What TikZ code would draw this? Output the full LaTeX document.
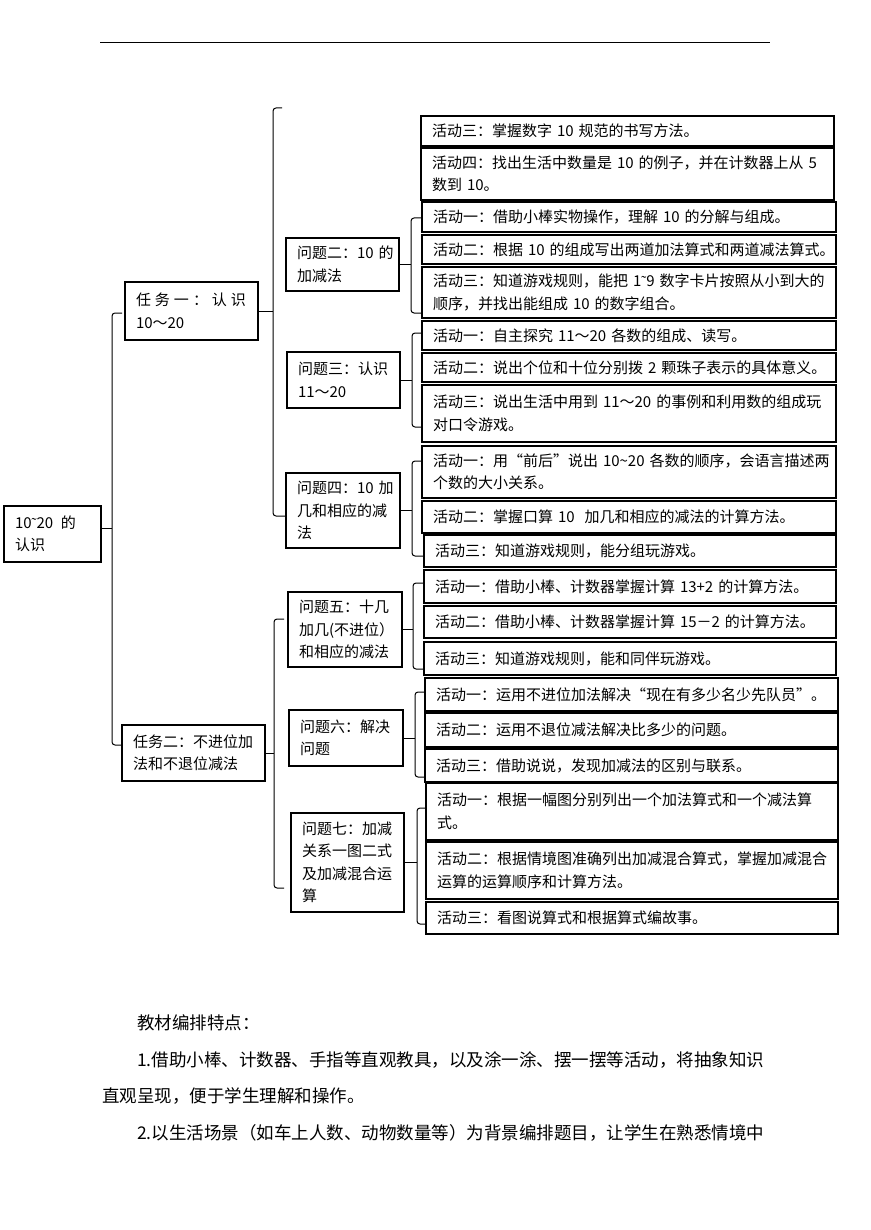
\documentclass[tikz,border=0pt]{standalone}
\usepackage{fontspec}
\setmainfont{Noto Sans CJK SC}
\newfontfamily\tildefont{Liberation Serif}
\newcommand\smtilde{{\tildefont ˜}}
\begin{document}
\begin{tikzpicture}[x=1pt,y=-1pt,
  box/.style={draw, line width=1.1pt, inner xsep=11pt, inner ysep=0pt, outer sep=0pt,
    anchor=north west, align=left, font=\fontsize{15}{22.5}\selectfont},
  conn/.style={line width=1pt, rounded corners=3pt},
  note/.style={anchor=base west, inner sep=0pt, font=\fontsize{17.5}{36}\selectfont}]
\useasboundingbox (0,0) rectangle (870,1230);
\newcommand\actbox[6]{%
  \pgfmathsetlengthmacro\bw{(#4-#2)*1pt}%
  \pgfmathsetlengthmacro\bh{(#5-#3)*1pt}%
  \pgfmathsetlengthmacro\tw{(#4-#2-22)*1pt}%
  \node[box, minimum width=\bw, minimum height=\bh, text width=\tw] (#1) at (#2,#3) {#6};}
% page rule
\draw[line width=0.9pt] (100,42) -- (770,42);
% main boxes
\actbox{root}{4}{506}{101}{562}{10\smtilde 20\enspace 的\\认识}
\actbox{task1}{125}{282}{258}{340}{\makebox[110pt][s]{任\hfill 务\hfill 一\hfill ：\hfill 认\hfill 识}\\10～20}
\actbox{task2}{122}{725}{265}{781}{任务二：不进位加\\法和不退位减法}
\actbox{p2}{286}{238}{399}{291}{问题二：10~的\\加减法}
\actbox{p3}{287}{352}{400}{408}{问题三：认识\\11～20}
\actbox{p4}{286}{473}{400}{548}{问题四：10~加\\几和相应的减\\法}
\actbox{p5}{288}{592}{402}{667}{问题五：十几\\加几(不进位）\\和相应的减法}
\actbox{p6}{289}{710}{403}{766}{问题六：解决\\问题}
\actbox{p7}{291}{813}{404}{912}{问题七：加减\\关系一图二式\\及加减混合运\\算}
% activities
\actbox{a13}{421}{116}{834}{146}{活动三：掌握数字~10~规范的书写方法。}
\actbox{a14}{421}{148}{834}{200}{活动四：找出生活中数量是~10~的例子，并在计数器上从~5\\数到~10。}
\actbox{a21}{422}{202}{836}{232}{活动一：借助小棒实物操作，理解~10~的分解与组成。}
\actbox{a22}{422}{235}{836}{264}{活动二：根据~10~的组成写出两道加法算式和两道减法算式。}
\actbox{a23}{422}{267}{836}{318}{活动三：知道游戏规则，能把~1\smtilde 9~数字卡片按照从小到大的\\顺序，并找出能组成~10~的数字组合。}
\actbox{a31}{422}{321}{836}{350}{活动一：自主探究~11～20~各数的组成、读写。}
\actbox{a32}{422}{353}{836}{382}{活动二：说出个位和十位分别拨~2~颗珠子表示的具体意义。}
\actbox{a33}{422}{385}{836}{442}{活动三：说出生活中用到~11～20~的事例和利用数的组成玩\\对口令游戏。}
\actbox{a41}{422}{446}{836}{498}{活动一：用“前后”说出~10\textasciitilde 20~各数的顺序，会语言描述两\\个数的大小关系。}
\actbox{a42}{422}{501}{836}{533}{活动二：掌握口算~10~~加几和相应的减法的计算方法。}
\actbox{a43}{424}{535}{836}{567}{活动三：知道游戏规则，能分组玩游戏。}
\actbox{a51}{424}{570}{836}{603}{活动一：借助小棒、计数器掌握计算~13+2~的计算方法。}
\actbox{a52}{424}{606}{836}{638}{活动二：借助小棒、计数器掌握计算~15－2~的计算方法。}
\actbox{a53}{424}{642}{836}{675}{活动三：知道游戏规则，能和同伴玩游戏。}
\actbox{a61}{425}{678}{838}{711}{活动一：运用不进位加法解决“现在有多少名少先队员”。}
\actbox{a62}{425}{713}{838}{747}{活动二：运用不退位减法解决比多少的问题。}
\actbox{a63}{425}{749}{838}{782}{活动三：借助说说，发现加减法的区别与联系。}
\actbox{a71}{426}{783}{838}{840}{活动一：根据一幅图分别列出一个加法算式和一个减法算\\式。}
\actbox{a72}{426}{842}{838}{899}{活动二：根据情境图准确列出加减混合算式，掌握加减混合\\运算的运算顺序和计算方法。}
\actbox{a73}{426}{902}{838}{934}{活动三：看图说算式和根据算式编故事。}
% hook ends that touch no box
\coordinate (t1top) at (282,108);
\coordinate (h5) at (284,619);
\coordinate (h7) at (284,888);
\coordinate (h1) at (122,313);
% root bracket
\draw[conn] (root.east |- 0,528) -- (112,528);
\draw[conn] (h1) -- (112,313) -- (112,745) -- (task2.west |- 0,745);
% task1 bracket
\draw[conn] (task1.east) -- (task1.east -| 273,0);
\draw[conn] (t1top) -- (273,108) -- (273,516) -- (p4.west |- 0,516);
% task2 bracket
\draw[conn] (task2.east) -- (task2.east -| 274,0);
\draw[conn] (h5) -- (274,619) -- (274,888) -- (h7);
% problem brackets
\draw[conn] (p2.east) -- (p2.east -| 411,0);
\draw[conn] (a21.west |- 0,218) -- (411,218) -- (411,313) -- (a23.west |- 0,313);
\draw[conn] (p3.east) -- (p3.east -| 412,0);
\draw[conn] (a31.west |- 0,333) -- (412,333) -- (412,427) -- (a33.west |- 0,427);
\draw[conn] (p4.east) -- (p4.east -| 412,0);
\draw[conn] (a41.west |- 0,461) -- (412,461) -- (412,556) -- (a43.west |- 0,556);
\draw[conn] (p5.east) -- (p5.east -| 413,0);
\draw[conn] (a51.west |- 0,583) -- (413,583) -- (413,669) -- (a53.west |- 0,669);
\draw[conn] (p6.east) -- (p6.east -| 415,0);
\draw[conn] (a61.west |- 0,692) -- (415,692) -- (415,777) -- (a63.west |- 0,777);
\draw[conn] (p7.east) -- (p7.east -| 417,0);
\draw[conn] (a71.west |- 0,808) -- (417,808) -- (417,924) -- (a73.west |- 0,924);
% notes
\node[note] (n0) at (137,1029) {教材编排特点：};
\node[note] (n1) at (137,1066) {1.借助小棒、计数器、手指等直观教具，以及涂一涂、摆一摆等活动，将抽象知识};
\node[note] (n2) at (102,1102) {直观呈现，便于学生理解和操作。};
\node[note] (n3) at (137,1139) {2.以生活场景（如车上人数、动物数量等）为背景编排题目，让学生在熟悉情境中};
\end{tikzpicture}
\end{document}
